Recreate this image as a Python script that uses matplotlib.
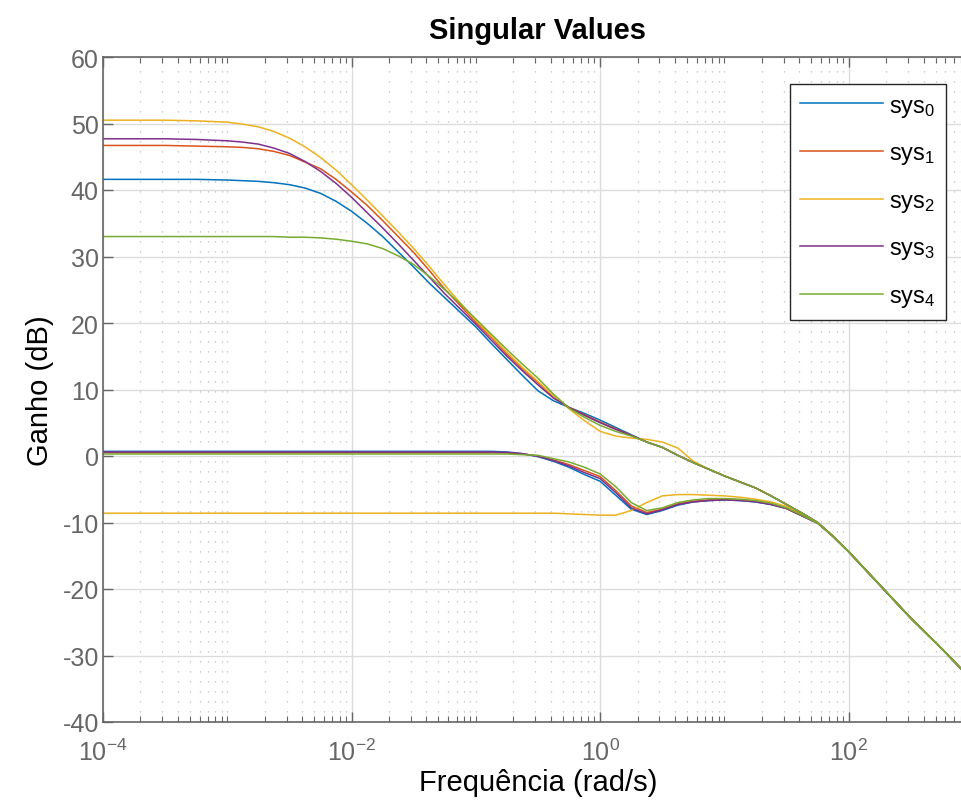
import numpy as np
import matplotlib
matplotlib.use('Agg')
import matplotlib.pyplot as plt

log_w = [-4, -3.5, -3.25, -3, -2.875, -2.75, -2.625, -2.5, -2.375, -2.25, -2.125, -2,
         -1.875, -1.75, -1.625, -1.5, -1.375, -1.25, -1.125, -1,
         -0.875, -0.75, -0.625, -0.5, -0.375, -0.25, -0.125, 0,
         0.125, 0.25, 0.375, 0.5, 0.625, 0.75, 0.875, 1,
         1.125, 1.25, 1.375, 1.5, 1.625, 1.75, 1.875, 2,
         2.25, 2.5, 2.75, 2.92]

# largest singular value (dB) of each system
sv_max_0 = [41.6, 41.6, 41.6, 41.5, 41.4, 41.3, 41.1, 40.8, 40.3, 39.5, 38.3, 36.8,
            35.0, 33.0, 30.7, 28.4, 26.0, 23.8, 21.6, 19.4,
            16.9, 14.5, 12.1, 9.8, 8.3, 7.3, 6.4, 5.4,
            4.3, 3.2, 2.1, 1.3, 0.1, -1.0, -2.0, -3.0,
            -3.9, -4.8, -6.0, -7.3, -8.6, -10.0, -12.1, -14.4,
            -19.4, -24.4, -29.0, -32.3]
sv_max_1 = [46.7, 46.7, 46.6, 46.5, 46.4, 46.2, 45.8, 45.2, 44.2, 43.2, 41.6, 39.7,
            37.7, 35.4, 33.0, 30.6, 27.9, 25.1, 22.6, 20.1,
            17.8, 15.3, 13.1, 11.0, 8.9, 7.3, 6.2, 5.1,
            4.1, 3.1, 2.1, 1.3, 0.1, -1.0, -2.0, -3.0,
            -3.9, -4.8, -6.0, -7.3, -8.6, -10.0, -12.1, -14.4,
            -19.4, -24.4, -29.0, -32.3]
sv_max_2 = [50.5, 50.5, 50.4, 50.2, 49.9, 49.5, 48.8, 47.8, 46.5, 44.9, 43.0, 40.8,
            38.5, 36.1, 33.7, 31.2, 28.5, 25.7, 23.0, 20.4,
            18.0, 15.6, 13.3, 11.2, 9.0, 7.1, 5.3, 3.7,
            3.0, 2.7, 2.5, 2.1, 1.2, -0.8, -2.0, -3.0,
            -3.9, -4.8, -6.0, -7.3, -8.6, -10.0, -12.1, -14.4,
            -19.4, -24.4, -29.0, -32.3]
sv_max_3 = [47.7, 47.7, 47.6, 47.4, 47.2, 46.9, 46.3, 45.5, 44.3, 42.8, 41.0, 38.9,
            36.6, 34.3, 31.9, 29.4, 26.9, 24.4, 22.1, 19.8,
            17.4, 15.0, 12.8, 10.7, 8.7, 7.3, 6.1, 5.0,
            4.0, 3.1, 2.1, 1.3, 0.1, -1.0, -2.0, -3.0,
            -3.9, -4.8, -6.0, -7.3, -8.6, -10.0, -12.1, -14.4,
            -19.4, -24.4, -29.0, -32.3]
sv_max_4 = [33.0, 33.0, 33.0, 33.0, 33.0, 33.0, 33.0, 32.9, 32.9, 32.8, 32.6, 32.3,
            31.9, 31.2, 30.1, 28.8, 27.0, 25.0, 22.9, 20.6,
            18.3, 16.0, 13.8, 11.7, 9.3, 7.2, 5.8, 4.6,
            3.7, 3.0, 2.1, 1.3, 0.1, -1.0, -2.0, -3.0,
            -3.9, -4.8, -6.0, -7.3, -8.6, -10.0, -12.1, -14.4,
            -19.4, -24.4, -29.0, -32.3]

# smallest singular value (dB) of each system
sv_min_0 = [0.7, 0.7, 0.7, 0.7, 0.7, 0.7, 0.7, 0.7, 0.7, 0.7, 0.7, 0.7,
            0.7, 0.7, 0.7, 0.7, 0.7, 0.7, 0.7, 0.7,
            0.7, 0.6, 0.35, -0.1, -0.8, -1.7, -2.8, -3.8,
            -5.9, -8.0, -8.8, -8.2, -7.4, -6.9, -6.7, -6.6,
            -6.7, -6.9, -7.3, -7.9, -9.0, -10.1, -12.1, -14.4,
            -19.4, -24.4, -29.0, -32.3]
sv_min_1 = [0.5, 0.5, 0.5, 0.5, 0.5, 0.5, 0.5, 0.5, 0.5, 0.5, 0.5, 0.5,
            0.5, 0.5, 0.5, 0.5, 0.5, 0.5, 0.5, 0.5,
            0.5, 0.45, 0.3, 0.0, -0.6, -1.3, -2.2, -3.1,
            -5.2, -7.5, -8.5, -8.0, -7.2, -6.8, -6.6, -6.5,
            -6.6, -6.8, -7.2, -7.9, -9.0, -10.1, -12.1, -14.4,
            -19.4, -24.4, -29.0, -32.3]
sv_min_2 = [-8.6, -8.6, -8.6, -8.6, -8.6, -8.6, -8.6, -8.6, -8.6, -8.6, -8.6, -8.6,
            -8.6, -8.6, -8.6, -8.6, -8.6, -8.6, -8.6, -8.6,
            -8.6, -8.6, -8.6, -8.6, -8.6, -8.7, -8.8, -8.9,
            -8.9, -8.2, -7.0, -6.0, -5.8, -5.8, -5.9, -6.0,
            -6.2, -6.5, -6.9, -7.6, -8.8, -10.0, -12.1, -14.4,
            -19.4, -24.4, -29.0, -32.3]
sv_min_3 = [0.6, 0.6, 0.6, 0.6, 0.6, 0.6, 0.6, 0.6, 0.6, 0.6, 0.6, 0.6,
            0.6, 0.6, 0.6, 0.6, 0.6, 0.6, 0.6, 0.6,
            0.6, 0.55, 0.35, -0.05, -0.7, -1.5, -2.5, -3.4,
            -5.5, -7.8, -8.7, -8.1, -7.3, -6.9, -6.7, -6.6,
            -6.7, -6.9, -7.3, -7.9, -9.0, -10.1, -12.1, -14.4,
            -19.4, -24.4, -29.0, -32.3]
sv_min_4 = [0.3, 0.3, 0.3, 0.3, 0.3, 0.3, 0.3, 0.3, 0.3, 0.3, 0.3, 0.3,
            0.3, 0.3, 0.3, 0.3, 0.3, 0.3, 0.3, 0.3,
            0.3, 0.3, 0.2, 0.1, -0.4, -0.9, -1.7, -2.7,
            -4.6, -7.0, -8.2, -7.8, -7.0, -6.6, -6.4, -6.4,
            -6.5, -6.7, -7.1, -7.8, -8.9, -10.1, -12.1, -14.4,
            -19.4, -24.4, -29.0, -32.3]

names = ['sys$_0$', 'sys$_1$', 'sys$_2$', 'sys$_3$', 'sys$_4$']
colors = ['#0072BD', '#D95319', '#EDB120', '#7E2F8E', '#77AC30']
sv_max = [sv_max_0, sv_max_1, sv_max_2, sv_max_3, sv_max_4]
sv_min = [sv_min_0, sv_min_1, sv_min_2, sv_min_3, sv_min_4]

plt.rcParams['font.family'] = ['Liberation Sans', 'DejaVu Sans']
plt.rcParams['mathtext.fontset'] = 'custom'
plt.rcParams['mathtext.rm'] = 'Liberation Sans'
plt.rcParams['mathtext.it'] = 'Liberation Sans:italic'
plt.rcParams['axes.unicode_minus'] = False

axis_gray = '#666666'

fig = plt.figure(figsize=(9.62, 8.12), dpi=100)
# right edge of the axes (10^3) falls just outside the picture
ax = fig.add_axes([103 / 962, 89 / 812, 870 / 962, 665 / 812])

w = 10.0 ** np.array(log_w)
for name, col, hi, lo in zip(names, colors, sv_max, sv_min):
    ax.plot(w, hi, color=col, lw=1.1, label=name)
    ax.plot(w, lo, color=col, lw=1.1)

ax.set_xscale('log')
ax.set_xlim(1e-4, 1e3)
ax.set_ylim(-40, 60)
ax.set_yticks(np.arange(-40, 61, 10))
ax.set_xticks([1e-4, 1e-2, 1e0, 1e2])
minor = [m * 10.0 ** k for k in range(-4, 3) for m in range(1, 10)
         if not (m == 1 and k % 2 == 0)]
ax.set_xticks(minor, minor=True)
ax.set_xticklabels([], minor=True)

# matlab-ish grid: solid majors, dotted minors
ax.grid(True, which='major', color='#dcdcdc', lw=1.0, ls='-')
ax.grid(True, which='minor', axis='x', color='#bdbdbd', lw=0.9, ls=(0, (1, 7)))
ax.set_axisbelow(True)

ax.tick_params(which='both', direction='in', top=True, right=True,
               colors=axis_gray, labelsize=18)
ax.tick_params(which='major', length=7, width=1.0)
ax.tick_params(which='minor', length=4, width=0.8)
ax.tick_params(axis='x', pad=12)
ax.tick_params(axis='y', pad=3)
for sp in ax.spines.values():
    sp.set_color(axis_gray)
    sp.set_linewidth(1.2)

ax.set_title('Singular Values', fontsize=21, fontweight='bold', pad=14)
ax.set_xlabel('Frequência (rad/s)', fontsize=21, labelpad=2)
ax.set_ylabel('Ganho (dB)', fontsize=21, labelpad=6)

leg = ax.legend(loc='upper right', bbox_to_anchor=((946 - 103) / 870, 1 - (85 - 58) / 665),
                borderaxespad=0, fontsize=17, handlelength=3.5, handletextpad=0.25,
                labelspacing=1.0, borderpad=0.45, fancybox=False, framealpha=1)
leg.get_frame().set_edgecolor('#262626')
leg.get_frame().set_linewidth(1.0)
for line in leg.get_lines():
    line.set_linewidth(1.1)

fig.savefig('out.png', dpi=100)
